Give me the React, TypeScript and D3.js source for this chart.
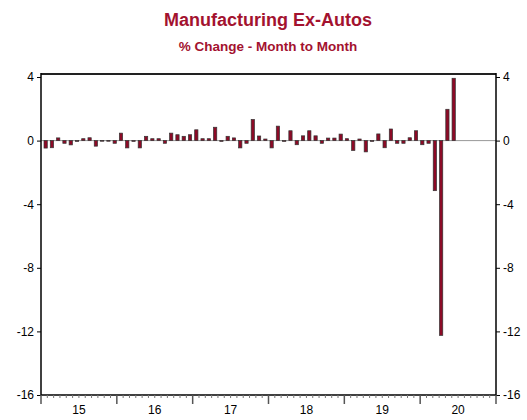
import React, { useRef, useEffect } from "react";
import * as d3 from "d3";

// monthly % change, Jan 2015 .. Jun 2020
const years = ["15", "16", "17", "18", "19", "20"];
const values2015 = [-0.47, -0.45, 0.17, -0.17, -0.27, -0.05, 0.12, 0.18, -0.35, -0.04, -0.04, -0.17];
const values2016 = [0.47, -0.46, -0.05, -0.46, 0.27, 0.12, 0.12, -0.17, 0.47, 0.37, 0.27, 0.37];
const values2017 = [0.68, 0.12, 0.12, 0.84, -0.05, 0.27, 0.17, -0.46, -0.17, 1.33, 0.29, 0.1];
const values2018 = [-0.46, 0.91, -0.05, 0.62, -0.26, 0.3, 0.62, 0.3, -0.17, 0.16, 0.16, 0.41];
const values2019 = [0.12, -0.62, 0.1, -0.71, -0.05, 0.42, -0.45, 0.73, -0.17, -0.17, 0.18, 0.62];
const values2020 = [-0.26, -0.17, -3.15, -12.25, 1.97, 3.92];
const yTicks = [4, 0, -4, -8, -12, -16];

const App = () => {
  const svgRef = useRef<SVGSVGElement>(null);

  useEffect(() => {
    document.body.style.margin = "0";
    const svg = d3.select(svgRef.current);
    svg.selectAll("*").remove();

    const left = 41, right = 496, top = 77, bottom = 395;
    const font = "Liberation Sans, Arial, sans-serif";
    const red = "#a3122f";

    const data = [values2015, values2016, values2017, values2018, values2019, values2020]
      .flat()
      .map((v, i) => ({ i, v }));
    const months = d3.range(years.length * 12);

    const x = d3.scaleBand<number>().domain(months).range([left, right]).padding(0.48);
    const y = d3.scaleLinear().domain([-16, 4]).range([bottom, top]);

    // titles
    svg.append("text").attr("x", 268).attr("y", 26).attr("text-anchor", "middle")
      .attr("font-family", font).attr("font-weight", "bold").attr("font-size", 18)
      .attr("fill", red).text("Manufacturing Ex-Autos");
    svg.append("text").attr("x", 268).attr("y", 51).attr("text-anchor", "middle")
      .attr("font-family", font).attr("font-weight", "bold").attr("font-size", 13.5)
      .attr("fill", red).text("% Change - Month to Month");

    // zero line
    svg.append("line").attr("x1", left).attr("x2", right)
      .attr("y1", y(0)).attr("y2", y(0)).attr("stroke", "#999").attr("stroke-width", 1);

    // bars
    svg.selectAll(".bar").data(data).enter().append("rect")
      .attr("class", "bar")
      .attr("x", (d) => x(d.i)!)
      .attr("y", (d) => y(Math.max(0, d.v)))
      .attr("width", x.bandwidth())
      .attr("height", (d) => Math.abs(y(d.v) - y(0)))
      .attr("fill", "#8c0a26")
      .attr("stroke", "#333")
      .attr("stroke-width", 0.7);

    // frame
    svg.append("line").attr("x1", left).attr("x2", right).attr("y1", 74).attr("y2", 74)
      .attr("stroke", "#222").attr("stroke-width", 2);

    const fmt = (d: any) => String(d);
    const axL = svg.append("g").attr("transform", `translate(${left},0)`)
      .call(d3.axisLeft(y).tickValues(yTicks).tickSize(4).tickPadding(3).tickFormat(fmt));
    const axR = svg.append("g").attr("transform", `translate(${right},0)`)
      .call(d3.axisRight(y).tickValues(yTicks).tickSize(4).tickPadding(3).tickFormat(fmt));
    [axL, axR].forEach((ax) => {
      ax.select(".domain").attr("d", `M0,73V${bottom}`).attr("stroke", "#000").attr("stroke-width", 1.5);
      ax.selectAll("text").attr("font-family", font).attr("font-size", 12).attr("fill", "#000");
    });

    // bottom axis: month ticks + year ticks
    const xt = d3.scaleLinear().domain([0, months.length]).range([left, right]);
    const axB = svg.append("g");
    axB.append("line").attr("x1", left).attr("x2", right).attr("y1", bottom).attr("y2", bottom)
      .attr("stroke", "#000").attr("stroke-width", 1.5);
    axB.selectAll(".mt").data(d3.range(months.length + 1)).enter().append("line")
      .attr("x1", (d) => xt(d)).attr("x2", (d) => xt(d))
      .attr("y1", bottom).attr("y2", (d) => bottom + (d % 12 === 0 ? 9 : 3))
      .attr("stroke", (d) => (d % 12 === 0 ? "#555" : "#777"))
      .attr("stroke-width", (d) => (d % 12 === 0 ? 1.5 : 1));
    axB.selectAll(".yl").data(years).enter().append("text")
      .attr("x", (_d, i) => xt(i * 12 + 6)).attr("y", 414).attr("text-anchor", "middle")
      .attr("font-family", font).attr("font-size", 12).text((d) => d);
  }, []);

  return (
    <svg ref={svgRef} width={527} height={420} style={{ display: "block", background: "#fff" }}></svg>
  );
};

export default App;
